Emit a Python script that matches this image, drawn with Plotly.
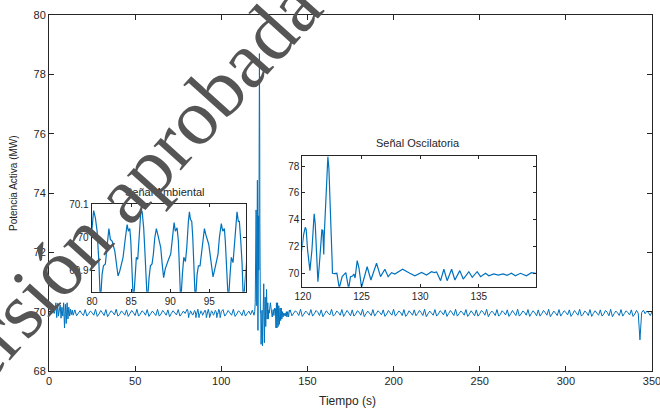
import numpy as np
import plotly.graph_objects as go

# ---------------- data (MW vs s) ----------------
# 0 - 13.5 s, every 0.5 s (initial disturbance)
seg_a_start, seg_a_step = 0.0, 0.5
seg_a_v = [69.97, 70.02, 69.93, 70.00, 69.95, 70.03, 69.94, 70.05, 70.30, 69.80,
           70.28, 69.85, 70.05, 70.22, 69.78, 70.15, 69.85, 70.30, 69.45, 70.25,
           69.60, 70.30, 69.75, 70.15, 69.85, 70.08, 69.90, 70.05]

# 14 - 79 s, every 1 s (ambient)
seg_b_start, seg_b_step = 14.0, 1.0
seg_b_v = [69.88, 70.06, 69.86, 69.95, 70.03, 69.94, 69.87, 70.07, 69.85, 69.93,
           70.02, 69.97, 69.88, 70.08, 69.84, 69.92, 70.04, 69.96, 69.87, 70.07,
           69.83, 69.93, 70.03, 69.98, 69.89, 70.08, 69.85, 69.91, 70.02, 69.97,
           69.88, 70.06, 69.84, 69.94, 70.04, 69.96, 69.87, 70.08, 69.85, 69.92,
           70.03, 69.98, 69.88, 70.07, 69.84, 69.93, 70.02, 69.95, 69.87, 70.08,
           69.85, 69.92, 70.04, 69.97, 69.88, 70.06, 69.83, 69.94, 70.03, 69.96,
           69.89, 70.07, 69.85, 69.93, 70.02, 69.94]

# 80 - 100 s ambient detail (time, value)
amb_points = [
    (80.00, 70.030), (80.20, 70.083), (80.42, 70.061), (80.64, 70.020), (80.86, 69.930),
    (81.06, 69.800), (81.28, 69.888), (81.45, 69.914), (81.70, 69.920), (81.90, 69.970),
    (82.05, 70.025), (82.15, 70.028), (82.34, 69.995), (82.56, 69.990), (82.90, 69.960),
    (83.20, 69.914), (83.32, 69.883), (83.54, 69.898), (83.75, 69.920), (83.96, 69.940),
    (84.26, 70.000), (84.48, 70.040), (84.65, 70.020), (84.82, 70.028), (84.95, 69.990),
    (85.10, 69.900), (85.28, 69.800), (85.50, 69.878), (85.66, 69.940), (85.84, 69.934),
    (85.97, 69.990), (86.22, 70.076), (86.40, 70.081), (86.52, 70.056), (86.60, 70.030),
    (86.73, 69.970), (86.90, 69.883), (87.07, 69.800), (87.29, 69.878), (87.46, 69.914),
    (87.67, 69.920), (87.84, 69.950), (88.02, 70.000), (88.22, 70.028), (88.40, 70.010),
    (88.57, 69.992), (88.78, 69.970), (88.95, 69.924), (89.15, 69.878), (89.36, 69.905),
    (89.55, 69.920), (89.80, 69.935), (90.06, 69.950), (90.23, 69.990), (90.49, 70.046),
    (90.65, 70.020), (90.87, 70.030), (91.04, 69.990), (91.17, 69.920), (91.34, 69.800),
    (91.55, 69.888), (91.73, 69.940), (91.94, 69.927), (92.11, 69.970), (92.32, 70.050),
    (92.45, 70.079), (92.58, 70.056), (92.75, 70.050), (92.88, 70.000), (93.05, 69.920),
    (93.21, 69.800), (93.43, 69.888), (93.60, 69.914), (93.81, 69.914), (93.98, 69.950),
    (94.16, 70.000), (94.37, 70.028), (94.54, 70.010), (94.74, 69.990), (94.92, 69.980),
    (95.09, 69.950), (95.31, 69.900), (95.47, 69.880), (95.69, 69.903), (95.90, 69.930),
    (96.11, 69.950), (96.28, 70.000), (96.53, 70.043), (96.71, 70.020), (96.92, 70.028),
    (97.04, 69.990), (97.22, 69.920), (97.43, 69.800), (97.65, 69.888), (97.81, 69.940),
    (98.03, 69.924), (98.20, 69.980), (98.41, 70.050), (98.54, 70.079), (98.71, 70.050),
    (98.84, 70.050), (99.02, 69.990), (99.19, 69.920), (99.35, 69.800), (99.57, 69.868),
    (99.75, 69.915),
]

# 100 - 119 s, every 1 s (ambient)
seg_c_start, seg_c_step = 100.0, 1.0
seg_c_v = [70.00, 70.07, 69.85, 69.93, 70.04, 69.96, 69.88, 70.08, 69.84, 69.92,
           70.03, 69.97, 69.87, 70.06, 69.85, 69.94, 70.02, 69.90, 70.05, 69.88]

# 119.4 - 140 s oscillatory event (time, value)
event_points = [
    (119.40, 70.00), (119.70, 70.30), (119.90, 71.80), (120.06, 72.86), (120.20, 73.43),
    (120.28, 73.28), (120.40, 71.74), (120.54, 70.25), (120.60, 70.20), (120.77, 71.74),
    (120.88, 73.85), (120.96, 74.43), (121.05, 73.73), (121.17, 71.00), (121.28, 69.37),
    (121.39, 70.49), (121.50, 71.99), (121.62, 73.23), (121.70, 73.20), (121.78, 71.40),
    (121.82, 72.80), (121.95, 75.30), (122.05, 77.60), (122.13, 78.70), (122.22, 77.80),
    (122.30, 76.20), (122.41, 72.98), (122.50, 70.75), (122.52, 70.00), (122.70, 69.97),
    (122.90, 70.00), (123.10, 68.90), (123.35, 69.75), (123.66, 70.05), (123.90, 68.85),
    (124.06, 69.75), (124.23, 69.80), (124.35, 69.95), (124.45, 69.65), (124.63, 70.94),
    (124.78, 70.40), (125.00, 68.95), (125.48, 70.49), (125.80, 69.50), (126.28, 70.75),
    (126.62, 69.75), (126.99, 70.30), (127.27, 69.75), (127.56, 70.05), (127.84, 69.95),
    (128.50, 70.30), (129.12, 70.00), (129.55, 69.82), (130.12, 70.07), (130.54, 69.87),
    (130.97, 70.12), (131.20, 70.05), (131.40, 70.10), (131.74, 69.45), (132.02, 70.30),
    (132.30, 69.45), (132.68, 70.30), (132.96, 69.50), (133.38, 70.20), (133.67, 69.57),
    (134.15, 70.12), (134.44, 69.70), (134.86, 70.12), (135.15, 69.75), (135.57, 70.00),
    (135.85, 69.82), (136.28, 69.95), (136.65, 69.87), (137.07, 69.95), (137.41, 69.85),
    (137.78, 70.00), (138.12, 69.82), (138.55, 70.00), (139.06, 69.82), (139.48, 70.05),
    (139.85, 70.00),
]

# 140 - 350 s, every 1 s (ambient, with a dip near 343 s)
seg_d_start, seg_d_step = 140.0, 1.0
seg_d_v = [70.06, 69.86, 69.94, 70.03, 69.97, 69.87, 70.08, 69.84, 69.92, 70.02,
           69.96, 69.88, 70.07, 69.85, 69.93, 70.04, 69.98, 69.87, 70.06, 69.83,
           69.93, 70.03, 69.95, 69.89, 70.08, 69.85, 69.91, 70.02, 69.97, 69.88,
           70.07, 69.84, 69.94, 70.04, 69.96, 69.86, 70.06, 69.85, 69.92, 70.03,
           69.98, 69.88, 70.08, 69.83, 69.93, 70.02, 69.95, 69.87, 70.07, 69.85,
           69.94, 70.03, 69.97, 69.89, 70.06, 69.84, 69.92, 70.04, 69.96, 69.88,
           70.08, 69.85, 69.93, 70.02, 69.98, 69.87, 70.07, 69.84, 69.91, 70.03,
           69.96, 69.88, 70.06, 69.86, 69.94, 70.04, 69.97, 69.87, 70.08, 69.83,
           69.93, 70.02, 69.95, 69.88, 70.07, 69.85, 69.92, 70.03, 69.98, 69.89,
           70.06, 69.84, 69.94, 70.04, 69.96, 69.87, 70.08, 69.85, 69.93, 70.02,
           69.97, 69.88, 70.07, 69.84, 69.92, 70.03, 69.95, 69.86, 70.06, 69.85,
           69.93, 70.04, 69.98, 69.88, 70.08, 69.83, 69.94, 70.02, 69.96, 69.87,
           70.07, 69.85, 69.91, 70.03, 69.97, 69.89, 70.06, 69.84, 69.93, 70.04,
           69.95, 69.87, 70.08, 69.85, 69.92, 70.02, 69.98, 69.88, 70.07, 69.84,
           69.94, 70.03, 69.96, 69.86, 70.06, 69.85, 69.93, 70.04, 69.97, 69.88,
           70.08, 69.83, 69.92, 70.02, 69.95, 69.87, 70.07, 69.85, 69.94, 70.03,
           69.98, 69.89, 70.06, 69.84, 69.93, 70.04, 69.96, 69.88, 70.08, 69.85,
           69.91, 70.02, 69.97, 69.87, 70.07, 69.84, 69.94, 70.03, 69.95, 69.88,
           70.06, 69.85, 69.92, 70.04, 69.98, 69.86, 70.08, 69.83, 69.93, 70.02,
           69.96, 69.87, 70.07, 69.85, 69.94, 70.03, 69.97, 69.89, 70.06, 69.84,
           69.92, 70.04, 69.95, 69.05, 69.97, 70.05, 69.93, 70.02, 69.96, 69.87,
           70.00]

x_ticks_main = [0, 50, 100, 150, 200, 250, 300, 350]
y_ticks_main = [68, 70, 72, 74, 76, 78, 80]
x_ticks_amb = [80, 85, 90, 95]
y_ticks_amb = [69.9, 70.0, 70.1]
y_ticklabels_amb = ["69.9", "70", "70.1"]
x_ticks_osc = [120, 125, 130, 135]
y_ticks_osc = [70, 72, 74, 76, 78]

# ---------------- assemble series ----------------
def seg(start, step, vals):
    return list(start + step * np.arange(len(vals))), list(vals)

ta, va = seg(seg_a_start, seg_a_step, seg_a_v)
tb, vb = seg(seg_b_start, seg_b_step, seg_b_v)
tc, vc = seg(seg_c_start, seg_c_step, seg_c_v)
td, vd = seg(seg_d_start, seg_d_step, seg_d_v)
t_all = ta + tb + [p[0] for p in amb_points] + tc + [p[0] for p in event_points] + td
v_all = va + vb + [p[1] for p in amb_points] + vc + [p[1] for p in event_points] + vd

W, H = 660, 408
BLUE = "#0072BD"
AX = "#262626"
FONT = "Liberation Sans, Arial, Helvetica, sans-serif"

def px_x(a, b):
    return [a / W, b / W]

def px_y(top, bottom):
    return [(H - bottom) / H, (H - top) / H]

fig = go.Figure()
for xa, ya, lw in [("x", "y", 1.0), ("x2", "y2", 1.2), ("x3", "y3", 1.2)]:
    fig.add_trace(go.Scatter(x=t_all, y=v_all, mode="lines", xaxis=xa, yaxis=ya,
                             line=dict(color=BLUE, width=lw), hoverinfo="skip",
                             showlegend=False))

def axis_common(size, ticklen):
    return dict(showline=True, linecolor=AX, linewidth=1, mirror="ticks",
                ticks="inside", ticklen=ticklen, tickwidth=1, tickcolor=AX,
                showgrid=False, zeroline=False, automargin=False,
                ticklabeloverflow="allow",
                tickfont=dict(family=FONT, size=size, color=AX))

fig.update_layout(
    width=W, height=H, margin=dict(l=0, r=0, t=0, b=0, autoexpand=False),
    paper_bgcolor="white", plot_bgcolor="white", showlegend=False,
    xaxis=dict(domain=px_x(49, 652), range=[0, 350], tickvals=x_ticks_main,
               anchor="y", **axis_common(11, 5)),
    yaxis=dict(domain=px_y(15, 371), range=[68, 80], tickvals=y_ticks_main,
               anchor="x", **axis_common(11, 5)),
    xaxis2=dict(domain=px_x(91.7, 245.7), range=[79.95, 99.65], tickvals=x_ticks_amb,
                anchor="y2", **axis_common(10, 3)),
    yaxis2=dict(domain=px_y(204, 291.7), range=[69.835, 70.103], tickvals=y_ticks_amb,
                ticktext=y_ticklabels_amb, anchor="x2", **axis_common(10, 3)),
    xaxis3=dict(domain=px_x(302.3, 535.7), range=[119.95, 139.85], tickvals=x_ticks_osc,
                anchor="y3", **axis_common(10, 3)),
    yaxis3=dict(domain=px_y(156, 286.7), range=[69.0, 78.75], tickvals=y_ticks_osc,
                anchor="x3", **axis_common(10, 3)),
)

def ann(text, x, y, size, angle=0, color=AX, family=FONT):
    fig.add_annotation(text=text, x=x / W, y=(H - y) / H, xref="paper", yref="paper",
                       showarrow=False, textangle=angle, xanchor="center", yanchor="middle",
                       font=dict(family=family, size=size, color=color))

ann("Tiempo (s)", 347, 401, 12)
ann("Potencia Activa (MW)", 14, 183, 10, angle=-90)
ann("Señal Ambiental", 165, 192, 11)
ann("Señal Oscilatoria", 418, 143, 11)
# watermark overlay present on the reference picture
ann("Versión aprobada", 119, 199, 80, angle=-48, color="#555555",
    family="Liberation Serif, DejaVu Serif, serif")

fig.write_html("out.html")
